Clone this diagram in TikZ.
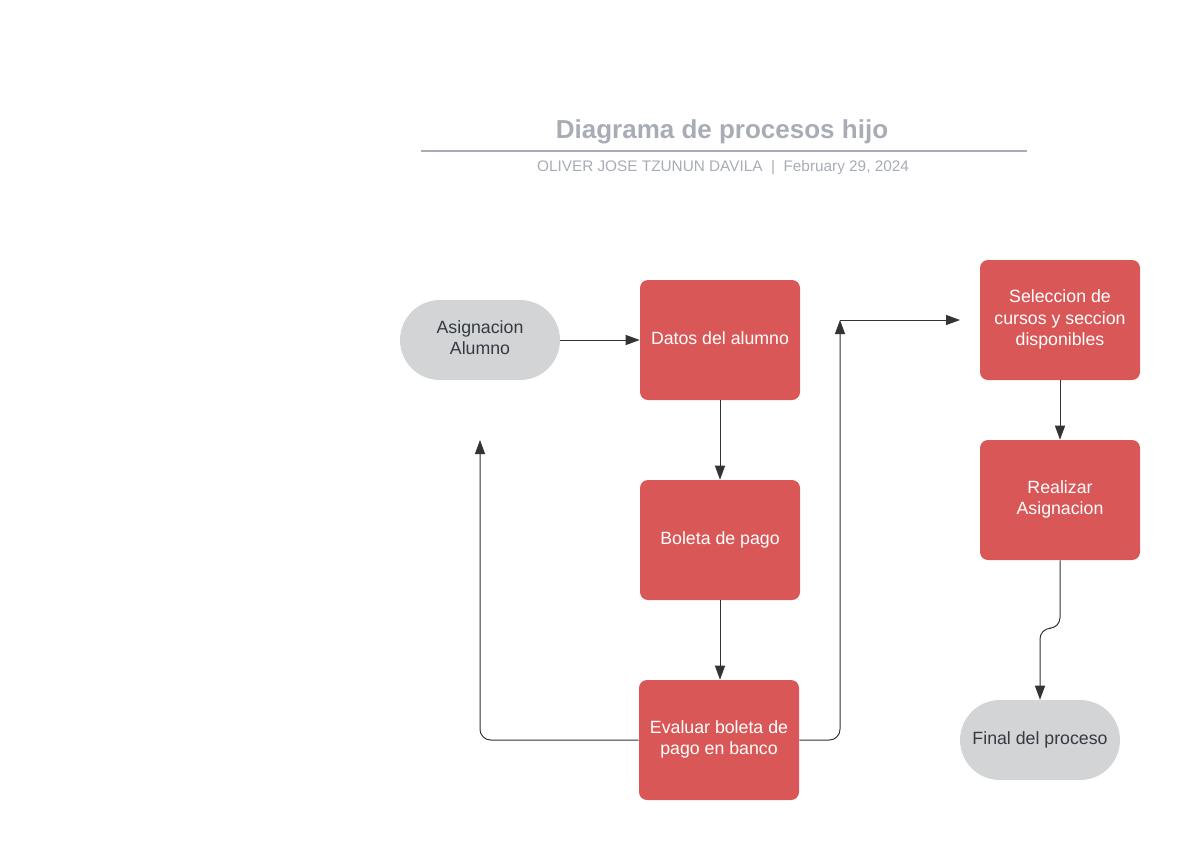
\documentclass[tikz,border=0pt]{standalone}
\usepackage{fontspec}
\setmainfont{Liberation Sans}
\usetikzlibrary{arrows.meta}

\definecolor{boxred}{HTML}{D95757}
\definecolor{termgray}{HTML}{D3D4D6}
\definecolor{titlegray}{HTML}{A8ACB5}
\definecolor{darktext}{HTML}{333A42}
\definecolor{linegray}{HTML}{333333}

\begin{document}
\begin{tikzpicture}[x=0.75pt,y=-0.75pt,
    process/.style={rectangle, rounded corners=6pt, fill=boxred,
        minimum width=120pt, minimum height=90pt, inner sep=2pt, text depth=3.5pt,
        text=white, align=center, font=\fontsize{13.3}{16}\selectfont},
    terminal/.style={rectangle, rounded corners=30pt, fill=termgray,
        minimum width=120pt, minimum height=60pt, inner sep=2pt, text depth=3.5pt,
        text=darktext, align=center, font=\fontsize{13.3}{16}\selectfont},
    flow/.style={draw=linegray, line width=0.75pt, rounded corners=8pt,
        -{Triangle[length=10.5pt,width=7.5pt]}}]

    \useasboundingbox (0,0) rectangle (1186,840);

    % title
    \node[text=titlegray, font=\bfseries\fontsize{19.5}{23}\selectfont] (title) at (722,132) {Diagrama de procesos hijo};
    \draw[titlegray, line width=1.5pt] (421,151) -- (1027,151);
    \node[text=titlegray, font=\fontsize{11.5}{13}\selectfont] (sub) at (723,168) {OLIVER JOSE TZUNUN DAVILA \ | \ February 29, 2024};

    % nodes
    \node[terminal] (inicio) at (480,340) {Asignacion\\Alumno};
    \node[process] (datos) at (720,340) {Datos del alumno};
    \node[process] (boleta) at (720,540) {Boleta de pago};
    \node[process] (evaluar) at (719,740) {Evaluar boleta de\\pago en banco};
    \node[process] (seleccion) at (1060,320) {Seleccion de\\cursos y seccion\\disponibles};
    \node[process] (realizar) at (1060,500) {Realizar\\Asignacion};
    \node[terminal] (final) at (1040,740) {Final del proceso};

    \coordinate (regreso) at (480,440);
    \coordinate (subida) at (840,320);
    \coordinate (entrada) at (960,320);

    % connectors
    \draw[flow] (inicio.east) -- (datos.west);
    \draw[flow] (datos.south) -- (boleta.north);
    \draw[flow] (boleta.south) -- (boleta.south |- evaluar.north);
    \draw[flow] (evaluar.west) -| (regreso);
    \draw[flow] (evaluar.east) -| (subida);
    \draw[flow] (subida) -- (entrada);
    \draw[flow] (seleccion.south) -- (realizar.north);
    \draw[flow] (realizar.south) -- ++(0,68) -| (final.north);
\end{tikzpicture}
\end{document}
